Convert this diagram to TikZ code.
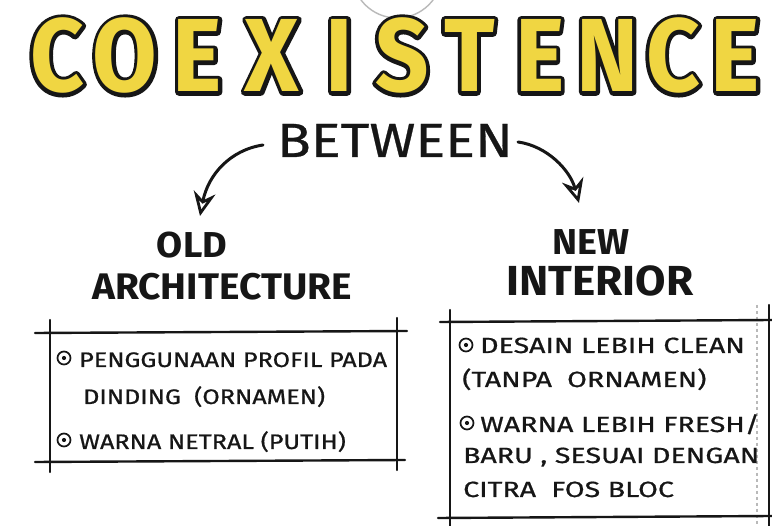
\documentclass[tikz,border=0pt]{standalone}
\usepackage{fontspec}
\setmainfont{Fira Sans}
\newfontfamily\titlef[FakeStretch=0.9]{Fira Sans}
\newfontfamily\handf[FakeStretch=1.2,FakeBold=0.8]{Fira Sans}
\newfontfamily\handr[FakeStretch=1.3,FakeBold=0.8]{Fira Sans}
\newfontfamily\headf[FakeStretch=1.16,FakeBold=0.6]{Fira Sans}
\newfontfamily\headb[FakeStretch=1.05]{Fira Sans}
\usetikzlibrary{arrows.meta}
\definecolor{ttlyellow}{RGB}{240,214,66}
\definecolor{ink}{RGB}{22,22,22}
\definecolor{pencil}{RGB}{185,185,185}
\newcommand{\outlined}[1]{\rlap{\color{ink}\special{pdf:literal direct 2 Tr 7.5 w 1 j}#1\special{pdf:literal direct 0 Tr}}#1}
\newcommand{\ttlword}{\makebox[67.5pt]{C}\makebox[69pt]{O}\makebox[75.5pt]{E}\makebox[74pt]{X}\makebox[61pt]{I}\makebox[63.5pt]{S}\makebox[71.5pt]{T}\makebox[69pt]{E}\makebox[67pt]{N}\makebox[63.5pt]{C}\makebox[61.5pt]{E}}
\begin{document}
\begin{tikzpicture}[x=1pt,y=-1pt,
  ttl/.style={anchor=base west,inner sep=0pt,text=ttlyellow,font=\titlef\bfseries\fontsize{104}{104}\selectfont},
  subhead/.style={anchor=base,inner sep=0pt,text=ink,font=\headf\fontsize{48}{48}\selectfont},
  colhead/.style={anchor=base,inner sep=0pt,text=ink,font=\headb\bfseries\fontsize{36}{36}\selectfont},
  handl/.style={anchor=base west,inner sep=0pt,text=ink,font=\handf\fontsize{21}{21}\selectfont},
  handrt/.style={anchor=base west,inner sep=0pt,text=ink,font=\handr\fontsize{22}{22}\selectfont},
  bul/.style={circle,draw=ink,line width=1.7pt,minimum size=13pt,inner sep=0pt,
    path picture={\fill[ink] (path picture bounding box.center) circle (2.1pt);}},
  boxline/.style={draw=ink,line width=2.4pt,line cap=round},
  arr/.style={draw=ink,line width=3pt,line cap=round,
    -{Stealth[open,length=24pt,width=22pt,inset=8pt,line width=2.8pt]}}
]
\useasboundingbox (0,0) rectangle (772,526);
\fill[white] (0,0) rectangle (772,526);
% faint pencil circle at top
\draw[pencil,line width=1.4pt] (397,-27) circle (45);
% title
\node[ttl] (title) at (23,92) {\outlined{\ttlword}};
% subheading
\node[subhead] (between) at (395,157) {BETWEEN};
\node[colhead] (old) at (192,258) {OLD};
\node[colhead,font=\headb\bfseries\fontsize{37}{37}\selectfont] (arch) at (222,300) {ARCHITECTURE};
\node[colhead] (new) at (591,255) {NEW};
\node[colhead,font=\headb\bfseries\fontsize{42}{42}\selectfont] (inter) at (600,296) {INTERIOR};
% arrows
\coordinate (ltip) at (200,216);
\coordinate (rtip) at (579,203);
\coordinate (lstart) at (263,145);
\coordinate (rstart) at (518,142);
\draw[arr] (lstart) .. controls (230,150) and (208,175) .. (ltip);
\draw[arr] (rstart) .. controls (547,146) and (570,170) .. (rtip);
% left box
\draw[boxline] (35,333) -- (407,331);
\draw[boxline] (35,462) -- (405,460);
\draw[boxline] (50,320) -- (50,472);
\draw[boxline] (397,318) -- (397,470);
\node[bul] (lb1) at (64,358) {};
\node[handl] (l1) at (79,367) {PENGGUNAAN PROFIL PADA};
\node[handl] (l2) at (83,404) {DINDING\ \ (ORNAMEN)};
\node[bul] (lb2) at (64,440) {};
\node[handl] (l3) at (79,449) {WARNA NETRAL (PUTIH)};
% right box
\draw[pencil,line width=1.2pt,dashed] (757,305) -- (757,526);
\draw[boxline] (440,322) -- (772,320);
\draw[boxline] (438,518) -- (772,516);
\draw[boxline] (450,310) -- (450,526);
\draw[boxline] (769,305) -- (769,526);
\node[bul] (rb1) at (466,345) {};
\node[handrt] (r1) at (480,353) {DESAIN LEBIH CLEAN};
\node[handrt] (r2) at (462,387) {(TANPA\ \ ORNAMEN)};
\node[bul] (rb2) at (467,423) {};
\node[handrt] (r3) at (480,432) {WARNA LEBIH FRESH/};
\node[handrt] (r4) at (463,463) {BARU , SESUAI DENGAN};
\node[handrt] (r5) at (463,497) {CITRA\ \ FOS BLOC};
\end{tikzpicture}
\end{document}
